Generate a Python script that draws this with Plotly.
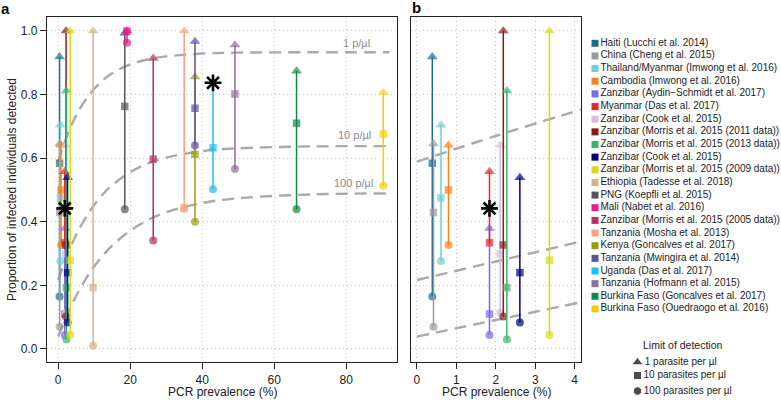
import plotly.graph_objects as go

W, H = 781, 403

# ---------------- data ----------------
studies = [
    "Haiti (Lucchi et al. 2014)",
    "China (Cheng et al. 2015)",
    "Thailand/Myanmar (Imwong et al. 2016)",
    "Cambodia (Imwong et al. 2016)",
    "Zanzibar (Aydin\u2212Schmidt et al. 2017)",
    "Myanmar (Das et al. 2017)",
    "Zanzibar (Cook et al. 2015)",
    "Zanzibar (Morris et al. 2015 (2011 data))",
    "Zanzibar (Morris et al. 2015 (2013 data))",
    "Zanzibar (Cook et al. 2015)",
    "Zanzibar (Morris et al. 2015 (2009 data))",
    "Ethiopia (Tadesse et al. 2018)",
    "PNG (Koepfli et al. 2015)",
    "Mali (Nabet et al. 2016)",
    "Zanzibar (Morris et al. 2015 (2005 data))",
    "Tanzania (Mosha et al. 2013)",
    "Kenya (Goncalves et al. 2017)",
    "Tanzania (Mwingira et al. 2014)",
    "Uganda (Das et al. 2017)",
    "Tanzania (Hofmann et al. 2015)",
    "Burkina Faso (Goncalves et al. 2017)",
    "Burkina Faso (Ouedraogo et al. 2016)",
]
colors = [
    "#1B6E8E", "#9B9B9B", "#72CFD2", "#F7821B", "#7B68EE", "#E8262A",
    "#D8BFD8", "#8B1A1A", "#3CB371", "#000080", "#DADA12", "#D2B48C",
    "#555555", "#E6198C", "#B0305F", "#F4A582", "#9C9C0E", "#5E4FA2",
    "#22BBEE", "#8F6F96", "#12884A", "#F2D000",
]
pcr_prev = [0.39, 0.42, 0.61, 0.80, 1.84, 1.84, 2.11, 2.19, 2.28, 2.61, 3.36,
            9.7, 18.5, 19.1, 26.4, 35.0, 38.0, 38.0, 43.0, 49.1, 66.2, 90.3]
det_1 = [0.919, 0.645, 0.704, 0.641, 0.379, 0.558, 0.641, 1.0, 0.812, 0.539, 1.0,
         1.0, 0.993, 1.0, 0.914, 1.0, 0.856, 0.967, None, 0.956, 0.874, 0.806]
det_10 = [0.584, 0.429, 0.475, 0.500, 0.110, 0.334, 0.299, 0.327, 0.193, 0.240, 0.279,
          0.193, 0.763, 1.0, 0.597, 0.445, 0.612, 0.757, 0.633, 0.802, 0.710, 0.676]
det_100 = [0.165, 0.070, 0.277, 0.327, 0.044, None, 0.114, 0.102, 0.030, 0.083, 0.044,
           0.010, 0.439, 0.963, 0.341, 0.440, 0.400, 0.640, 0.502, 0.566, 0.439, 0.513]
star_val = [None, None, None, None, None, 0.442, None, None, None, None, None,
            None, None, None, None, None, None, None, 0.837, None, None, None]

# limit-of-detection curves
curve_a_x = [0, 3, 6, 9, 12, 15, 20, 25, 30, 40, 50, 70, 92]
curve_a_1 = [0.589, 0.686, 0.755, 0.805, 0.841, 0.867, 0.895, 0.911, 0.920, 0.929, 0.932, 0.933, 0.933]
curve_a_10 = [0.217, 0.309, 0.381, 0.437, 0.481, 0.515, 0.556, 0.584, 0.602, 0.622, 0.631, 0.637, 0.638]
curve_a_100 = [0.039, 0.121, 0.188, 0.243, 0.288, 0.325, 0.372, 0.406, 0.430, 0.459, 0.474, 0.486, 0.489]
curve_b_x = [0, 2, 4.16]
curve_b_1 = [0.589, 0.670, 0.753]
curve_b_10 = [0.217, 0.275, 0.338]
curve_b_100 = [0.039, 0.091, 0.147]
curve_labels = ["1 p/\u00b5l", "10 p/\u00b5l", "100 p/\u00b5l"]

lod_labels = ["1 parasite per \u00b5l", "10 parasites per \u00b5l", "100 parasites per \u00b5l"]
lod_symbols = ["triangle-up", "square", "circle"]

xticks_a = [0, 20, 40, 60, 80]
xticks_b = [0, 1, 2, 3, 4]
yticks = [0.0, 0.2, 0.4, 0.6, 0.8, 1.0]

# ---------------- figure ----------------
FONT = "Liberation Sans, Arial, Helvetica, sans-serif"
fig = go.Figure()

def px_x(p):
    return p / W

def px_y(p):
    return 1 - p / H

curve_style = dict(color="#AAAAAA", width=2.4, dash="12px,7px")
sym_sizes = {"triangle-up": 9.5, "square": 7.5, "circle": 8}

for ax, (cx, c1, c10, c100) in (("", (curve_a_x, curve_a_1, curve_a_10, curve_a_100)),
                                 ("2", (curve_b_x, curve_b_1, curve_b_10, curve_b_100))):
    for cy in (c1, c10, c100):
        fig.add_trace(go.Scatter(x=cx, y=cy, mode="lines", line=dict(shape="spline", **curve_style),
                                 xaxis="x" + ax, yaxis="y" + ax, showlegend=False, hoverinfo="skip"))

for ax in ("", "2"):
    for i in range(len(studies)):
        vals = [v for v in (det_1[i], det_10[i], det_100[i], star_val[i]) if v is not None]
        fig.add_trace(go.Scatter(x=[pcr_prev[i], pcr_prev[i]], y=[min(vals), max(vals)], mode="lines",
                                 line=dict(color=colors[i], width=1.5),
                                 xaxis="x" + ax, yaxis="y" + ax, showlegend=False, hoverinfo="skip"))
        ys, syms = [], []
        for v, s in zip((det_1[i], det_10[i], det_100[i]), lod_symbols):
            if v is not None:
                ys.append(v)
                syms.append(s)
        fig.add_trace(go.Scatter(x=[pcr_prev[i]] * len(ys), y=ys, mode="markers",
                                 marker=dict(color=colors[i], symbol=syms,
                                             size=[sym_sizes[s] for s in syms], line=dict(width=0)),
                                 xaxis="x" + ax, yaxis="y" + ax, showlegend=False,
                                 name=studies[i]))
    sx = [pcr_prev[i] for i in range(len(studies)) if star_val[i] is not None]
    sy = [v for v in star_val if v is not None]
    fig.add_trace(go.Scatter(x=sx, y=sy, mode="markers",
                             marker=dict(symbol="asterisk-open", size=14, color="black",
                                         line=dict(width=2.6, color="black")),
                             xaxis="x" + ax, yaxis="y" + ax, showlegend=False, hoverinfo="skip"))

# legend drawn on an overlay axis in pixel units
leg_y = [43.3 + 12.65 * i for i in range(len(studies))]
fig.add_trace(go.Scatter(x=[595] * len(studies), y=leg_y, mode="markers+text",
                         marker=dict(symbol="square", size=7, color=colors),
                         text=studies, textposition="middle right",
                         textfont=dict(family=FONT, size=10, color="#222"),
                         xaxis="x3", yaxis="y3", showlegend=False, hoverinfo="skip"))
fig.add_trace(go.Scatter(x=[637.5] * 3, y=[362.3, 375.5, 391], mode="markers+text",
                         marker=dict(symbol=lod_symbols, size=[10, 8, 8.5], color="black"),
                         text=lod_labels, textposition="middle right",
                         textfont=dict(family=FONT, size=10, color="#222"),
                         xaxis="x3", yaxis="y3", showlegend=False, hoverinfo="skip"))

axis_common = dict(showline=True, mirror=True, linecolor="#222", linewidth=1.2,
                   showgrid=True, gridcolor="#C8C8C8", griddash="1px,3px", gridwidth=1,
                   zeroline=False, ticks="outside", ticklen=6, tickcolor="#222",
                   tickfont=dict(family=FONT, size=12, color="#222"), automargin=False)

fig.update_layout(
    width=W, height=H, margin=dict(l=0, r=0, t=0, b=0),
    paper_bgcolor="white", plot_bgcolor="rgba(0,0,0,0)",
    font=dict(family=FONT, size=12, color="#222"),
    xaxis=dict(domain=[px_x(47), px_x(397)], range=[-3.1, 94.1], tickvals=xticks_a,
               anchor="y", **axis_common),
    yaxis=dict(domain=[px_y(362), px_y(17)], range=[-0.041, 1.044], tickvals=yticks,
               ticktext=[f"{v:.1f}" for v in yticks], anchor="x", **axis_common),
    xaxis2=dict(domain=[px_x(411), px_x(581)], range=[-0.15, 4.16], tickvals=xticks_b,
                anchor="y2", **axis_common),
    yaxis2=dict(domain=[px_y(362), px_y(17)], range=[-0.041, 1.044], tickvals=yticks,
                anchor="x2", **{**axis_common, "ticks": "", "showticklabels": False}),
    xaxis3=dict(domain=[0, 1], range=[0, W], visible=False, anchor="y3", fixedrange=True),
    yaxis3=dict(domain=[0, 1], range=[H, 0], visible=False, anchor="x3", fixedrange=True),
)

ann = []
for lbl, yv, xv in zip(curve_labels, [0.961, 0.673, 0.523], [82.9, 82.4, 82.0]):
    ann.append(dict(x=xv, y=yv, xref="x", yref="y", text=lbl, showarrow=False,
                    font=dict(family=FONT, size=11, color="#8A8A8A")))
ann += [
    dict(x=5, y=8, xref="x3", yref="y3", text="<b>a</b>", showarrow=False,
         font=dict(family=FONT, size=15, color="black")),
    dict(x=416, y=7, xref="x3", yref="y3", text="<b>b</b>", showarrow=False,
         font=dict(family=FONT, size=15, color="black")),
    dict(x=12, y=190, xref="x3", yref="y3", text="Proportion of infected individuals detected",
         textangle=-90, showarrow=False, font=dict(family=FONT, size=12, color="#222")),
    dict(x=222, y=392, xref="x3", yref="y3", text="PCR prevalence (%)", showarrow=False,
         font=dict(family=FONT, size=12, color="#222")),
    dict(x=496, y=392, xref="x3", yref="y3", text="PCR prevalence (%)", showarrow=False,
         font=dict(family=FONT, size=12, color="#222")),
    dict(x=683, y=345, xref="x3", yref="y3", text="Limit of detection", showarrow=False,
         font=dict(family=FONT, size=10.5, color="#222")),
]
fig.update_layout(annotations=ann)

fig.write_html("out.html", config={"displayModeBar": False},
               post_script="document.body.style.margin='0';document.body.style.padding='0';")
